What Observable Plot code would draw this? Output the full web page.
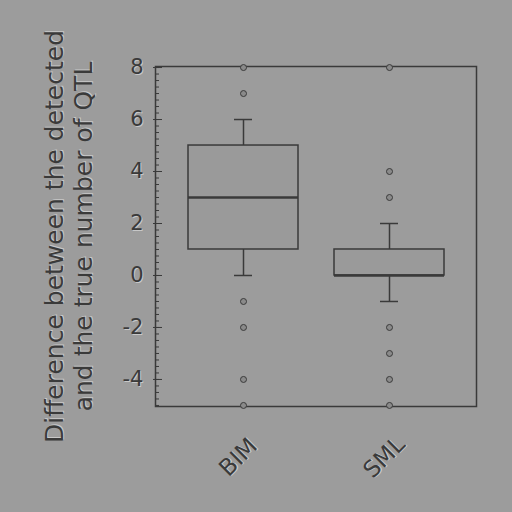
<!DOCTYPE html>
<html><head><meta charset="utf-8">
<script src="https://cdn.jsdelivr.net/npm/d3@7"></script>
<script src="https://cdn.jsdelivr.net/npm/@observablehq/plot@0.6"></script>
<style>
html,body{margin:0;padding:0;background:#9c9c9c;}
svg text{text-shadow:1px 1px 0 #c8c8c8;}
</style></head>
<body><div id="chart"></div>
<script>
const categories = ["BIM", "SML"];
const q1 = [1, 0];
const median = [3, 0];
const q3 = [5, 1];
const whiskerLow = [0, -1];
const whiskerHigh = [6, 2];
const outliersBIM = [8, 7, -1, -2, -4, -5];
const outliersSML = [8, 4, 3, -2, -3, -4, -5];
const yTicks = [-4, -2, 0, 2, 4, 6, 8];
const yLabel = "Difference between the detected\nand the true number of QTL";

const boxes = categories.map((c, i) => ({cat: c, q1: q1[i], med: median[i], q3: q3[i], lo: whiskerLow[i], hi: whiskerHigh[i]}));
const outliers = [
  ...outliersBIM.map(v => ({cat: "BIM", v})),
  ...outliersSML.map(v => ({cat: "SML", v}))
];
const minorTicks = d3.range(-5, 8.001, 0.25);
const ink = "#3a3a3a";

const chart = Plot.plot({
  width: 512, height: 512,
  marginLeft: 155, marginRight: 36, marginTop: 66, marginBottom: 106,
  style: {background: "#9c9c9c", fontFamily: "DejaVu Sans, sans-serif", color: ink},
  x: {type: "band", domain: categories, paddingInner: 0.25, paddingOuter: 0.22, axis: null},
  y: {domain: [-5.04, 8.04], axis: null},
  marks: [
    Plot.frame({stroke: ink, strokeWidth: 1.5}),
    Plot.axisY({ticks: minorTicks, tickSize: 4, dx: 4, tickFormat: () => "", stroke: ink}),
    Plot.axisY({ticks: yTicks, tickSize: 9, dx: 7, tickFormat: () => "", stroke: ink}),
    Plot.axisY({ticks: yTicks, tickSize: 0, tickPadding: 12, fontSize: 21, tickFormat: d => String(d), fill: ink}),
    Plot.ruleX(boxes, {x: "cat", y1: "q3", y2: "hi", stroke: ink, strokeWidth: 1.5}),
    Plot.ruleX(boxes, {x: "cat", y1: "lo", y2: "q1", stroke: ink, strokeWidth: 1.5}),
    Plot.tickY(boxes, {x: "cat", y: "hi", stroke: ink, strokeWidth: 1.5, inset: 46}),
    Plot.tickY(boxes, {x: "cat", y: "lo", stroke: ink, strokeWidth: 1.5, inset: 46}),
    Plot.barY(boxes, {x: "cat", y1: "q1", y2: "q3", fill: "#9a9a9a", stroke: ink, strokeWidth: 1.5}),
    Plot.tickY(boxes, {x: "cat", y: "med", stroke: ink, strokeWidth: 2.5}),
    Plot.dot(outliers, {x: "cat", y: "v", r: 3, stroke: ink, fill: "#8a8a8a", strokeWidth: 1}),
    Plot.text(categories, {x: d => d, frameAnchor: "bottom", dy: 56, rotate: -45, text: d => d, fontSize: 23, fill: ink}),
    Plot.text([yLabel], {frameAnchor: "left", dx: -87, rotate: -90, textAnchor: "middle", text: d => d, fontSize: 25, lineHeight: 1.17, fill: ink})
  ]
});
document.getElementById("chart").appendChild(chart);
</script></body></html>
